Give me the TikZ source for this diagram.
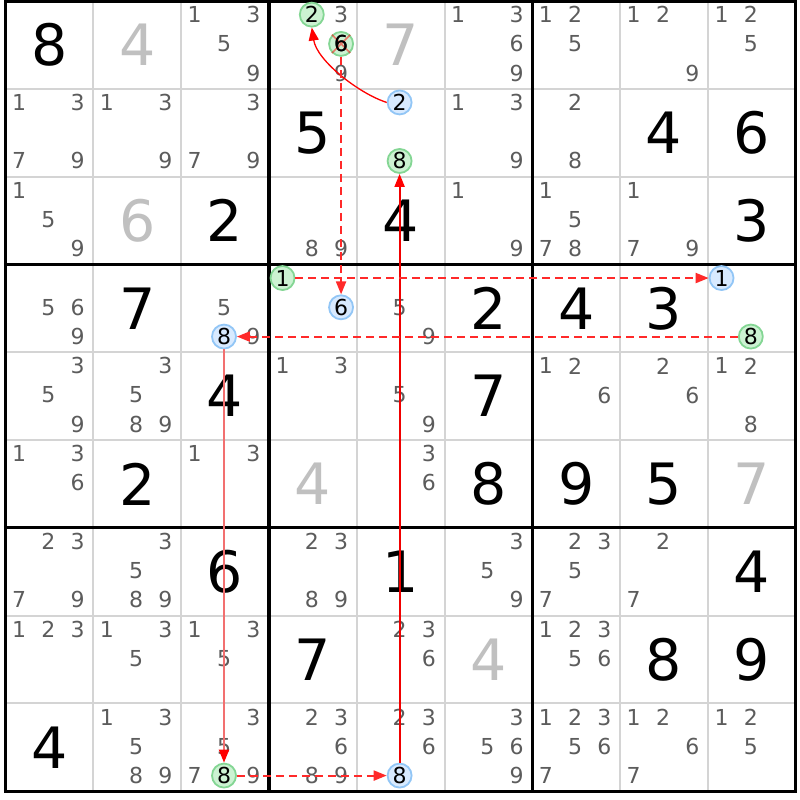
\documentclass[tikz,border=0pt]{standalone}
\usepackage{fontspec}
\setmainfont{DejaVu Sans}
\usetikzlibrary{arrows.meta}
\definecolor{thinc}{HTML}{D4D4D4}
\definecolor{candc}{HTML}{5C5C5C}
\definecolor{lightc}{HTML}{C0C0C0}
\definecolor{gfill}{HTML}{CCF2D2}
\definecolor{gline}{HTML}{84D694}
\definecolor{bfill}{HTML}{D8EAFF}
\definecolor{bline}{HTML}{92C6F6}
\definecolor{arrc}{HTML}{FF2A2A}
\definecolor{darkarr}{HTML}{F00000}
\definecolor{pinkarr}{HTML}{F27070}
\newcommand\bigfnt{\fontsize{57}{57}\selectfont}
\newcommand\smallfnt{\fontsize{22}{22}\selectfont}
\newcommand\Gv[3]{\node[given] (n#1#2) at ({5.5+(#2+0.5)*87.8},{1+(#1+0.5)*87.8}) {#3};}
\newcommand\Pl[3]{\node[placed] (n#1#2) at ({5.5+(#2+0.5)*87.8},{1+(#1+0.5)*87.8}) {#3};}
\newcommand\Cd[3]{\foreach \d in {#3}{%
  \pgfmathtruncatemacro\kx{mod(\d-1,3)}%
  \pgfmathtruncatemacro\ky{div(\d-1,3)}%
  \node[candd] (c#1#2\d) at ({5.5+#2*87.8+(\kx+0.5)*29.267-1},{1+#1*87.8+(\ky+0.5)*29.267-1}) {\d};}}
\newcommand\Hl[5]{%
  \pgfmathtruncatemacro\kx{mod(#5-1,3)}%
  \pgfmathtruncatemacro\ky{div(#5-1,3)}%
  \node[#2] (#1) at ({5.5+#4*87.8+(\kx+0.5)*29.267-1},{1+#3*87.8+(\ky+0.5)*29.267-1}) {#5};}
\begin{document}
\begin{tikzpicture}[x=1pt,y=-1pt,
  given/.style={font=\bigfnt, text=black, inner sep=0},
  placed/.style={font=\bigfnt, text=lightc, inner sep=0},
  candd/.style={font=\smallfnt, text=candc, inner sep=0},
  gmark/.style={circle, minimum size=24pt, inner sep=0, fill=gfill, draw=gline, line width=1.8pt, font=\smallfnt, text=black},
  bmark/.style={circle, minimum size=24pt, inner sep=0, fill=bfill, draw=bline, line width=1.8pt, font=\smallfnt, text=black},
  thinline/.style={draw=thinc, line width=2pt},
  thickline/.style={draw=black, line width=3.2pt},
  dasharr/.style={draw=arrc, line width=2pt, dash pattern=on 8pt off 5pt, -{Triangle[length=13pt,width=10pt]}},
  solidarr/.style={draw=darkarr, line width=1.8pt, -{Triangle[length=13pt,width=10pt,color=red]}},
  softarr/.style={draw=pinkarr, line width=2pt, -{Triangle[length=13pt,width=10pt,color=red]}},
  curvearr/.style={draw=red, line width=1.3pt, -{Triangle[length=13pt,width=10pt]}}
]
\useasboundingbox (0,0) rectangle (800,800);
\fill[white] (0,0) rectangle (800,800);
\foreach \i in {0,...,9}{
  \draw[thinline] ({5.5+\i*87.8},1) -- ({5.5+\i*87.8},791.2);
  \draw[thinline] (5.5,{1+\i*87.8}) -- (795.7,{1+\i*87.8});
}
\foreach \i in {0,3,6,9}{
  \draw[thickline] ({5.5+\i*87.8},-0.6) -- ({5.5+\i*87.8},792.8);
  \draw[thickline] (3.9,{1+\i*87.8}) -- (797.3,{1+\i*87.8});
}
% row 0
\Gv{0}{0}{8} \Pl{0}{1}{4} \Cd{0}{2}{1,3,5,9} \Cd{0}{3}{2,3,6,9} \Pl{0}{4}{7} \Cd{0}{5}{1,3,6,9} \Cd{0}{6}{1,2,5} \Cd{0}{7}{1,2,9} \Cd{0}{8}{1,2,5}
% row 1
\Cd{1}{0}{1,3,7,9} \Cd{1}{1}{1,3,9} \Cd{1}{2}{3,7,9} \Gv{1}{3}{5} \Cd{1}{4}{2,8} \Cd{1}{5}{1,3,9} \Cd{1}{6}{2,8} \Gv{1}{7}{4} \Gv{1}{8}{6}
% row 2
\Cd{2}{0}{1,5,9} \Pl{2}{1}{6} \Gv{2}{2}{2} \Cd{2}{3}{8,9} \Gv{2}{4}{4} \Cd{2}{5}{1,9} \Cd{2}{6}{1,5,7,8} \Cd{2}{7}{1,7,9} \Gv{2}{8}{3}
% row 3
\Cd{3}{0}{5,6,9} \Gv{3}{1}{7} \Cd{3}{2}{5,8,9} \Cd{3}{3}{1,6} \Cd{3}{4}{5,9} \Gv{3}{5}{2} \Gv{3}{6}{4} \Gv{3}{7}{3} \Cd{3}{8}{1,8}
% row 4
\Cd{4}{0}{3,5,9} \Cd{4}{1}{3,5,8,9} \Gv{4}{2}{4} \Cd{4}{3}{1,3} \Cd{4}{4}{5,9} \Gv{4}{5}{7} \Cd{4}{6}{1,2,6} \Cd{4}{7}{2,6} \Cd{4}{8}{1,2,8}
% row 5
\Cd{5}{0}{1,3,6} \Gv{5}{1}{2} \Cd{5}{2}{1,3} \Pl{5}{3}{4} \Cd{5}{4}{3,6} \Gv{5}{5}{8} \Gv{5}{6}{9} \Gv{5}{7}{5} \Pl{5}{8}{7}
% row 6
\Cd{6}{0}{2,3,7,9} \Cd{6}{1}{3,5,8,9} \Gv{6}{2}{6} \Cd{6}{3}{2,3,8,9} \Gv{6}{4}{1} \Cd{6}{5}{3,5,9} \Cd{6}{6}{2,3,5,7} \Cd{6}{7}{2,7} \Gv{6}{8}{4}
% row 7
\Cd{7}{0}{1,2,3} \Cd{7}{1}{1,3,5} \Cd{7}{2}{1,3,5} \Gv{7}{3}{7} \Cd{7}{4}{2,3,6} \Pl{7}{5}{4} \Cd{7}{6}{1,2,3,5,6} \Gv{7}{7}{8} \Gv{7}{8}{9}
% row 8
\Gv{8}{0}{4} \Cd{8}{1}{1,3,5,8,9} \Cd{8}{2}{3,5,7,8,9} \Cd{8}{3}{2,3,6,8,9} \Cd{8}{4}{2,3,6,8} \Cd{8}{5}{3,5,6,9} \Cd{8}{6}{1,2,3,5,6,7} \Cd{8}{7}{1,2,6,7} \Cd{8}{8}{1,2,5}
% highlighted candidates
\Hl{g2}{gmark}{0}{3}{2}
\Hl{g6}{gmark}{0}{3}{6}
\Hl{b2}{bmark}{1}{4}{2}
\Hl{g8a}{gmark}{1}{4}{8}
\Hl{g1}{gmark}{3}{3}{1}
\Hl{b6}{bmark}{3}{3}{6}
\Hl{b1}{bmark}{3}{8}{1}
\Hl{g8b}{gmark}{3}{8}{8}
\Hl{b8a}{bmark}{3}{2}{8}
\Hl{g8c}{gmark}{8}{2}{8}
\Hl{b8b}{bmark}{8}{4}{8}
% elimination cross on the 6
\draw[red, opacity=0.5, line width=1.6pt] (g6.135) -- (g6.-45) (g6.45) -- (g6.-135);
\node[font=\smallfnt, text=black, inner sep=0] (g6t) at (g6) {6};
% connectors
\draw[curvearr] (b2.west) .. controls +(-28,-9) and +(5,33) .. (g2.south);
\draw[dasharr] (g6) -- (b6);
\draw[solidarr] (b8b) -- (g8a);
\draw[dasharr] (g1) -- (b1);
\draw[dasharr] (g8b) -- (b8a);
\draw[softarr] (b8a) -- (g8c);
\draw[dasharr] (g8c) -- (b8b);
\end{tikzpicture}
\end{document}
